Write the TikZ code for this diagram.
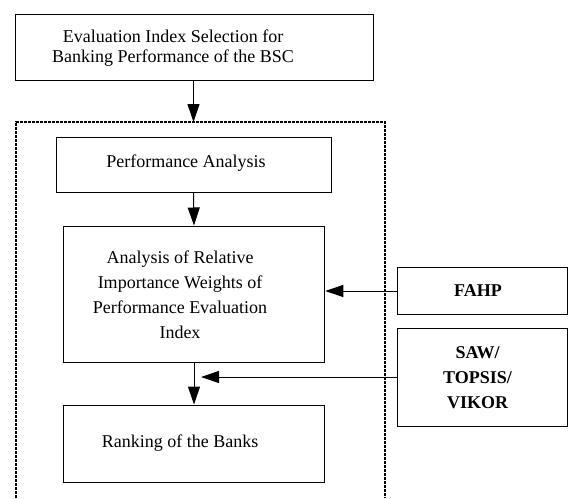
\documentclass[tikz,border=0pt]{standalone}
\usepackage{fontspec}
\setmainfont{Liberation Serif}
\usetikzlibrary{arrows.meta}
\begin{document}
\begin{tikzpicture}[x=1pt,y=-1pt,
  box/.style={draw, line width=1pt, inner sep=0pt},
  lbl/.style={align=center, inner sep=0pt, font=\fontsize{18}{20}\selectfont},
  lblwide/.style={align=center, inner sep=0pt, font=\fontsize{18}{25}\selectfont},
  lblbold/.style={align=center, inner sep=0pt, font=\fontsize{18}{25}\selectfont\bfseries},
  flow/.style={line width=1pt, -{Triangle[length=18pt,width=12pt]}},
  group/.style={line width=2.3pt, dash pattern=on 2.6pt off 1.4pt}]
\useasboundingbox (0,0) rectangle (569,498);

% boxes
\node[box, minimum width=358pt, minimum height=66pt] (sel) at (194,47) {};
\node[box, minimum width=275pt, minimum height=55pt] (perf) at (193.5,164.5) {};
\node[box, minimum width=261.5pt, minimum height=136pt] (ana) at (194,294) {};
\node[box, minimum width=261.5pt, minimum height=77pt] (rank) at (194,443.5) {};
\node[box, minimum width=170pt, minimum height=47pt] (fahp) at (482,290.5) {};
\node[box, minimum width=170pt, minimum height=98pt] (saw) at (482,377) {};

% texts
\node[lbl] (selt) at (173,48) {Evaluation Index Selection for\\Banking Performance of the BSC};
\node[lbl] (perft) at (186,163) {Performance Analysis};
\node[lblwide] (anat) at (180,295) {Analysis of Relative\\Importance Weights of\\Performance Evaluation\\Index};
\node[lbl] (rankt) at (180,443) {Ranking of the Banks};
\node[lblbold] (fahpt) at (478,291) {FAHP};
\node[lblbold] (sawt) at (477.5,378) {SAW/\\TOPSIS/\\VIKOR};

% dotted frame, open at the bottom
\coordinate (dtop) at (193.5,122);
\draw[group] (16,498) -- (16,122) -- (385,122) -- (385,498);

% connectors
\coordinate (join) at (201,377);
\draw[flow] (sel.south -| dtop) -- (dtop);
\draw[flow] (perf.south) -- (ana.north);
\draw[flow] (ana.south) -- (rank.north);
\draw[flow] (fahp.west |- 0,291) -- (ana.east |- 0,291);
\draw[flow] (saw.west |- join) -- (join);
\end{tikzpicture}
\end{document}
